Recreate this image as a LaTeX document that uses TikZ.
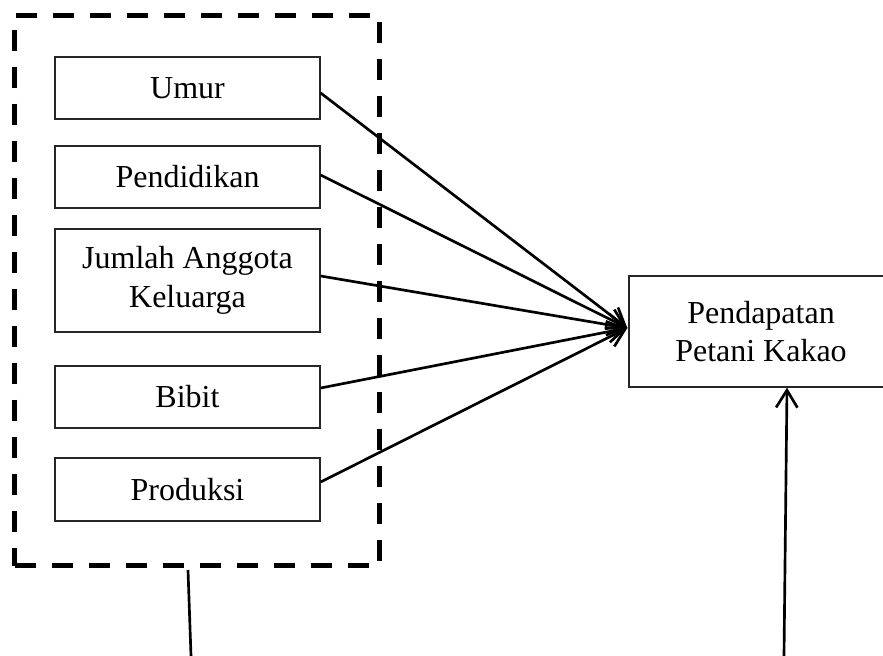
\documentclass[tikz,border=0pt]{standalone}
\usepackage{fontspec}
\setmainfont{Liberation Serif}
\usetikzlibrary{arrows.meta,calc}
\tikzset{
  kotak/.style={draw=black!85,line width=1pt,align=center,inner sep=0pt,
    font=\fontsize{24}{29}\selectfont},
  panah/.style={line width=2pt,-{Straight Barb[length=13pt,width=16pt]}},
  garis/.style={line width=2pt},
}
\begin{document}
\begin{tikzpicture}[x=0.75pt,y=-0.75pt]
\useasboundingbox (0,0) rectangle (883,656);
% variabel bebas
\node[draw,line width=3.75pt,dash pattern=on 15.75pt off 12pt,
  minimum width=274.1pt,minimum height=412.5pt] (kelompok) at (197.25,290.5) {};
\node[kotak,minimum width=198.75pt,minimum height=46.5pt] (umur) at (187.5,88) {Umur};
\node[kotak,minimum width=198.75pt,minimum height=46.5pt] (pendidikan) at (187.5,177) {Pendidikan};
\node[kotak,minimum width=198.75pt,minimum height=77.25pt] (jumlah) at (187.5,280.5) {Jumlah Anggota\\Keluarga};
\node[kotak,minimum width=198.75pt,minimum height=46.5pt] (bibit) at (187.5,397) {Bibit};
\node[kotak,minimum width=198.75pt,minimum height=47.25pt] (produksi) at (187.5,489.5) {Produksi};
% variabel terikat
\node[kotak,minimum width=198pt,minimum height=83.25pt] (pendapatan) at (761,331.5) {Pendapatan\\Petani Kakao};
\coordinate (ujung) at ($(pendapatan.west)+(-1,-3.5)$);
% panah ke pendapatan
\draw[panah] ($(umur.east)+(0,5)$) -- (ujung);
\draw[panah] ($(pendidikan.east)+(0,-2)$) -- (ujung);
\draw[panah] ($(jumlah.east)+(0,-4.5)$) -- (ujung);
\draw[panah] ($(bibit.east)+(0,-9)$) -- (ujung);
\draw[panah] ($(produksi.east)+(0,-7.5)$) -- (ujung);
% garis bawah
\coordinate (kaki1) at (191,656);
\coordinate (kaki2) at (784,656);
\draw[garis] ($(kelompok.south)+(-9.25,2)$) -- (kaki1);
\draw[panah] (kaki2) -- ($(pendapatan.south)+(26,0)$);
\end{tikzpicture}
\end{document}
